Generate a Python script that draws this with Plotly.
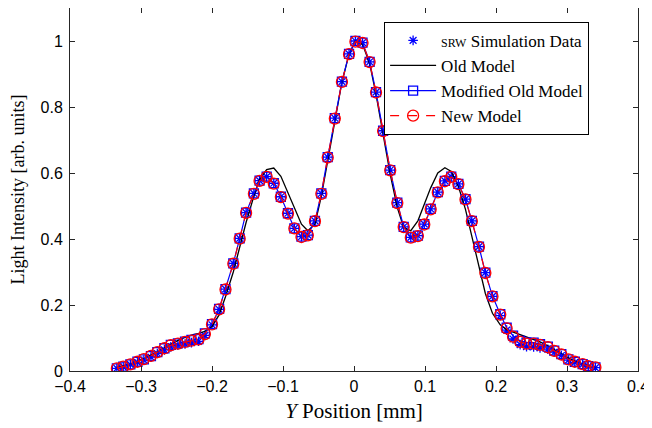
import plotly.graph_objects as go

# Y position [mm]
y_pos = [-0.334, -0.325, -0.315, -0.305, -0.296, -0.286, -0.277, -0.267, -0.258, -0.248,
         -0.238, -0.229, -0.219, -0.210, -0.200, -0.190, -0.181, -0.170, -0.161, -0.152,
         -0.141, -0.133, -0.123, -0.113, -0.103, -0.093, -0.084, -0.074, -0.065, -0.055,
         -0.046, -0.037, -0.027, -0.017, -0.007, 0.002, 0.012, 0.022, 0.031, 0.041,
         0.051, 0.061, 0.070, 0.080, 0.090, 0.099, 0.108, 0.118, 0.128, 0.137,
         0.147, 0.157, 0.166, 0.176, 0.185, 0.195, 0.206, 0.215, 0.224, 0.234,
         0.243, 0.253, 0.262, 0.273, 0.282, 0.292, 0.302, 0.311, 0.322, 0.330, 0.340]

# Modified Old Model
modified_old = [0.008, 0.013, 0.020, 0.028, 0.035, 0.045, 0.057, 0.069, 0.079, 0.084,
                0.089, 0.094, 0.097, 0.114, 0.142, 0.188, 0.248, 0.326, 0.402, 0.480,
                0.538, 0.577, 0.589, 0.569, 0.528, 0.478, 0.432, 0.407, 0.412, 0.455,
                0.538, 0.648, 0.766, 0.877, 0.961, 1.000, 0.995, 0.937, 0.845, 0.728,
                0.609, 0.510, 0.437, 0.405, 0.410, 0.445, 0.491, 0.542, 0.576, 0.589,
                0.567, 0.521, 0.455, 0.377, 0.298, 0.227, 0.172, 0.131, 0.107, 0.091,
                0.086, 0.086, 0.081, 0.074, 0.062, 0.051, 0.035, 0.028, 0.021, 0.015, 0.011]

# New Model
new_model = [0.008, 0.013, 0.020, 0.028, 0.036, 0.046, 0.057, 0.069, 0.078, 0.083,
             0.088, 0.092, 0.096, 0.112, 0.141, 0.187, 0.247, 0.325, 0.401, 0.479,
             0.537, 0.576, 0.588, 0.568, 0.527, 0.477, 0.432, 0.406, 0.411, 0.454,
             0.537, 0.647, 0.765, 0.876, 0.960, 0.998, 0.994, 0.936, 0.844, 0.727,
             0.608, 0.509, 0.436, 0.404, 0.409, 0.444, 0.490, 0.541, 0.575, 0.588,
             0.566, 0.520, 0.454, 0.376, 0.297, 0.226, 0.171, 0.129, 0.104, 0.088,
             0.083, 0.083, 0.079, 0.072, 0.061, 0.050, 0.035, 0.028, 0.021, 0.015, 0.011]

# SRW Simulation Data
srw_data = [0.008, 0.012, 0.019, 0.026, 0.033, 0.042, 0.053, 0.064, 0.073, 0.078,
            0.082, 0.086, 0.090, 0.108, 0.140, 0.187, 0.248, 0.326, 0.402, 0.480,
            0.538, 0.577, 0.589, 0.569, 0.528, 0.478, 0.432, 0.407, 0.412, 0.455,
            0.538, 0.648, 0.766, 0.877, 0.961, 1.000, 0.995, 0.937, 0.845, 0.728,
            0.609, 0.510, 0.437, 0.405, 0.410, 0.445, 0.491, 0.542, 0.576, 0.589,
            0.567, 0.521, 0.455, 0.377, 0.298, 0.226, 0.168, 0.124, 0.097, 0.080,
            0.074, 0.073, 0.070, 0.066, 0.057, 0.047, 0.033, 0.026, 0.019, 0.014, 0.010]

# Old Model
old_model = [0.010, 0.014, 0.020, 0.028, 0.037, 0.047, 0.058, 0.070, 0.082, 0.093,
             0.102, 0.109, 0.114, 0.120, 0.135, 0.170, 0.225, 0.300, 0.375, 0.450,
             0.530, 0.580, 0.610, 0.615, 0.590, 0.540, 0.490, 0.445, 0.425, 0.445,
             0.530, 0.640, 0.760, 0.875, 0.960, 1.000, 0.990, 0.932, 0.838, 0.718,
             0.596, 0.495, 0.435, 0.425, 0.455, 0.505, 0.555, 0.600, 0.616, 0.605,
             0.560, 0.490, 0.405, 0.315, 0.235, 0.175, 0.140, 0.125, 0.118, 0.112,
             0.105, 0.097, 0.088, 0.076, 0.064, 0.052, 0.040, 0.030, 0.021, 0.015, 0.010]

x_ticks = [-0.4, -0.3, -0.2, -0.1, 0, 0.1, 0.2, 0.3, 0.4]
y_ticks = [0, 0.2, 0.4, 0.6, 0.8, 1]
y_tick_labels = ["0", "0.2", "0.4", "0.6", "0.8", "1"]

serif = "Liberation Serif"
sans = "Liberation Sans"

fig = go.Figure()
fig.add_trace(go.Scatter(
    x=y_pos, y=srw_data, mode="markers",
    name="<span style='font-size:12px'>SRW</span> Simulation Data",
    marker=dict(symbol="asterisk-open", size=8, color="#0000ff",
                line=dict(color="#0000ff", width=1.3)),
))
fig.add_trace(go.Scatter(
    x=y_pos, y=old_model, mode="lines", name="Old Model",
    line=dict(color="black", width=1.3),
))
fig.add_trace(go.Scatter(
    x=y_pos, y=modified_old, mode="lines+markers", name="Modified Old Model",
    line=dict(color="#0000ff", width=1.2),
    marker=dict(symbol="square-open", size=9, color="#0000ff",
                line=dict(color="#0000ff", width=1.3)),
))
fig.add_trace(go.Scatter(
    x=y_pos, y=new_model, mode="lines+markers", name="New Model",
    line=dict(color="#ff0000", width=1.2, dash="dash"),
    marker=dict(symbol="circle-open", size=11, color="#ff0000",
                line=dict(color="#ff0000", width=1.3)),
))

axis_common = dict(
    showgrid=False, zeroline=False, showline=True, linecolor="#262626", linewidth=1,
    mirror="ticks", ticks="inside", ticklen=5, tickcolor="#262626",
    tickfont=dict(family=sans, size=16, color="black"),
)

# The page body has an 8px margin, so the figure is sized/offset to compensate.
fig.update_layout(
    width=644, height=420,
    margin=dict(l=62, r=14, t=0, b=57),
    paper_bgcolor="white", plot_bgcolor="white",
    xaxis=dict(range=[-0.4, 0.4], tickvals=x_ticks, ticklabelstandoff=1,
               title=dict(text="<i>Y</i> Position [mm]", font=dict(family=serif, size=21, color="black"),
                          standoff=9),
               **axis_common),
    yaxis=dict(range=[0, 1.1], tickvals=y_ticks, ticktext=y_tick_labels, ticklabelstandoff=3,
               title=dict(text="Light Intensity [arb. units]", font=dict(family=serif, size=18, color="black"),
                          standoff=11),
               **axis_common),
    legend=dict(x=0.553, y=0.962, xanchor="left", yanchor="top",
                bgcolor="white", bordercolor="black", borderwidth=1,
                font=dict(family=serif, size=17, color="black"),
                itemwidth=46, tracegroupgap=0),
    showlegend=True,
)

fig.write_html("out.html")
